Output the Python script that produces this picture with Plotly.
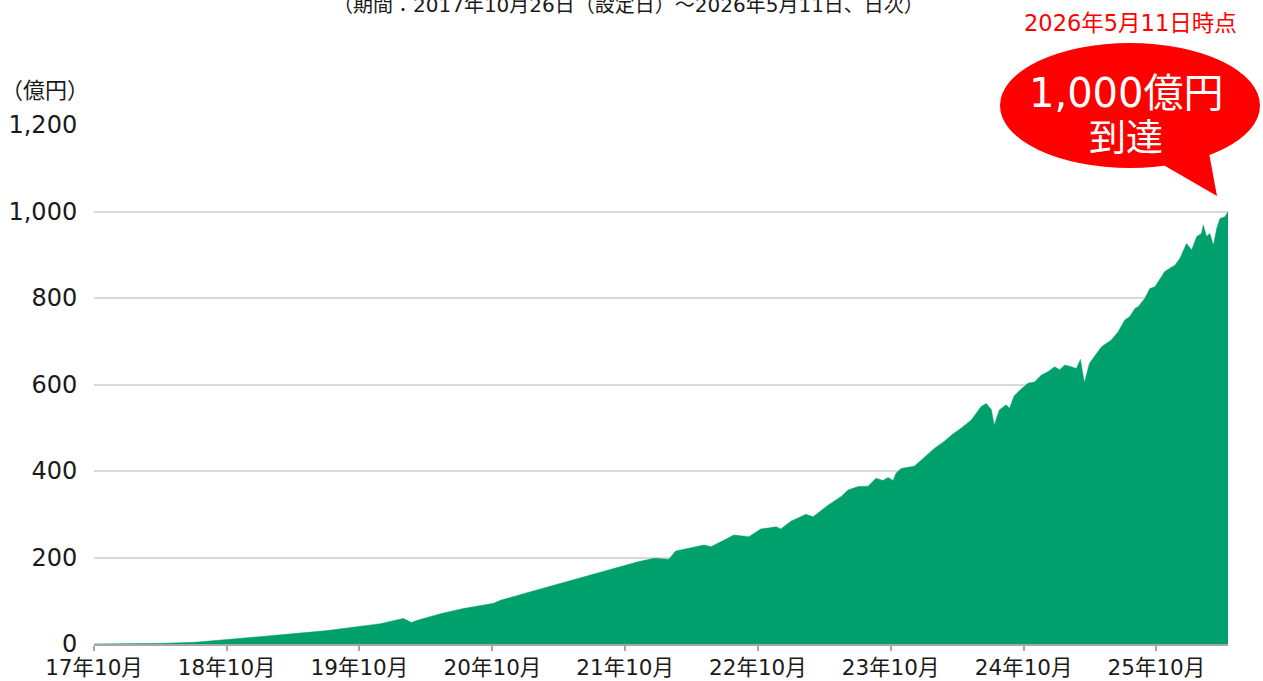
import plotly.graph_objects as go

# 純資産総額（億円）: dates and values
dates = [
    "2017-10-26", "2018-02-02", "2018-05-07", "2018-07-31", "2018-10-25",
    "2019-01-26", "2019-04-30", "2019-07-30", "2019-10-26", "2019-12-23",
    "2020-02-02", "2020-02-24", "2020-03-17", "2020-04-03", "2020-06-05",
    "2020-08-07", "2020-10-29", "2020-11-17", "2021-02-08", "2021-04-12",
    "2021-06-06", "2021-09-08", "2021-11-30", "2022-01-13", "2022-02-23",
    "2022-03-14", "2022-05-31", "2022-06-19", "2022-08-21", "2022-10-01",
    "2022-11-03", "2022-11-23", "2022-12-15", "2022-12-28", "2023-01-25",
    "2023-03-07", "2023-03-27", "2023-05-07", "2023-06-12", "2023-07-01",
    "2023-07-29", "2023-08-25", "2023-09-16", "2023-10-05", "2023-10-19",
    "2023-11-02", "2023-11-10", "2023-11-24", "2023-12-30", "2024-01-18",
    "2024-02-23", "2024-03-21", "2024-04-15", "2024-05-07", "2024-06-04",
    "2024-07-01", "2024-07-15", "2024-07-29", "2024-08-06", "2024-08-20",
    "2024-09-08", "2024-09-17", "2024-09-30", "2024-10-20", "2024-11-07",
    "2024-11-25", "2024-12-14", "2025-01-02", "2025-01-19", "2025-02-02",
    "2025-02-16", "2025-03-06", "2025-03-20", "2025-03-31", "2025-04-07",
    "2025-04-11", "2025-04-25", "2025-05-14", "2025-05-28", "2025-06-24",
    "2025-07-13", "2025-07-31", "2025-08-14", "2025-08-28", "2025-09-06",
    "2025-09-24", "2025-10-08", "2025-10-22", "2025-11-09", "2025-11-18",
    "2025-12-02", "2025-12-16", "2025-12-30", "2026-01-17", "2026-01-31",
    "2026-02-14", "2026-02-27", "2026-03-04", "2026-03-13", "2026-03-22",
    "2026-04-01", "2026-04-10", "2026-04-19", "2026-05-03", "2026-05-11",
]
values = [
    0.2, 0.5, 1.5, 4, 10,
    16, 24, 31, 40, 47,
    55, 59, 50, 55, 70,
    82, 94, 101, 121, 136,
    149, 171, 190, 198, 196,
    215, 229, 225, 252, 248,
    266, 268, 271, 266, 284,
    300, 294, 321, 341, 356,
    364, 365, 383, 378, 385,
    378, 395, 406, 411, 425,
    452, 468, 486, 499, 518,
    549, 556, 542, 506, 541,
    553, 545, 574, 590, 603,
    606, 622, 630, 641, 634,
    645, 641, 637, 658, 626,
    604, 649, 672, 687, 703,
    722, 749, 757, 776, 780,
    799, 822, 826, 849, 861,
    869, 876, 892, 926, 911,
    942, 949, 969, 942, 949,
    922, 961, 984, 988, 1000,
]

tick_dates = ["2017-10-26", "2018-10-26", "2019-10-26", "2020-10-26", "2021-10-26",
              "2022-10-26", "2023-10-26", "2024-10-26", "2025-10-26"]
tick_labels = ["17年10月", "18年10月", "19年10月", "20年10月", "21年10月",
               "22年10月", "23年10月", "24年10月", "25年10月"]
y_ticks = [0, 200, 400, 600, 800, 1000, 1200]
y_tick_labels = ["0", "200", "400", "600", "800", "1,000", "1,200"]

title_text = "（期間：2017年10月26日（設定日）～2026年5月11日、日次）"
asof_text = "2026年5月11日時点"
bubble_line1 = "1,000億円"
bubble_line2 = "到達"
unit_text = "（億円）"

FONT = "DejaVu Sans, Noto Sans CJK JP, sans-serif"
GREEN = "#00A06C"
RED = "#FF0000"
TEXT = "#1A1A1A"

fig = go.Figure()
fig.add_trace(go.Scatter(
    x=dates, y=values, mode="lines", fill="tozeroy",
    line=dict(color=GREEN, width=0.5), fillcolor=GREEN,
    hoverinfo="x+y", showlegend=False,
))

# plot area in page pixels: x 94..1228, y 125..644
W, H = 1263, 681
L, R, T, B = 94, 1228, 125, 644
def px(x):
    return (x - L) / (R - L)
def py(y):
    return (B - y) / (B - T)

shapes = [
    dict(type="circle", xref="paper", yref="paper",
         x0=px(1000), x1=px(1260), y0=py(168), y1=py(43),
         fillcolor=RED, line=dict(width=0), layer="above"),
    dict(type="path", xref="paper", yref="paper",
         path=f"M {px(1160)} {py(163)} L {px(1209)} {py(153)} L {px(1217)} {py(196)} Z",
         fillcolor=RED, line=dict(width=0), layer="above"),
]

annotations = [
    dict(text=title_text, xref="paper", yref="paper", x=px(628), y=py(5),
         showarrow=False, font=dict(family=FONT, size=20, color=TEXT),
         xanchor="center", yanchor="middle"),
    dict(text=asof_text, xref="paper", yref="paper", x=px(1130), y=py(23),
         showarrow=False, font=dict(family=FONT, size=22.5, color=RED),
         xanchor="center", yanchor="middle"),
    dict(text=bubble_line1, xref="paper", yref="paper", x=px(1126), y=py(93),
         showarrow=False, font=dict(family=FONT, size=40, color="white"),
         xanchor="center", yanchor="middle"),
    dict(text=bubble_line2, xref="paper", yref="paper", x=px(1126), y=py(138),
         showarrow=False, font=dict(family=FONT, size=37, color="white"),
         xanchor="center", yanchor="middle"),
    dict(text=unit_text, xref="paper", yref="paper", x=px(45), y=py(90),
         showarrow=False, font=dict(family=FONT, size=22, color=TEXT),
         xanchor="center", yanchor="middle"),
]

fig.update_layout(
    width=W, height=H,
    margin=dict(l=L, r=W - R, t=T, b=H - B, pad=0, autoexpand=False),
    paper_bgcolor="white", plot_bgcolor="white",
    font=dict(family=FONT, size=22, color=TEXT),
    shapes=shapes, annotations=annotations,
    xaxis=dict(
        type="date", range=["2017-10-26", "2026-05-11"],
        tickvals=tick_dates, ticktext=tick_labels,
        showgrid=False, showline=True, linecolor="#A6A6A6", linewidth=2,
        ticks="outside", ticklen=5, tickwidth=2, tickcolor="#A6A6A6",
        ticklabelstandoff=-2, automargin=False,
        tickfont=dict(family=FONT, size=21.5, color=TEXT),
        zeroline=False,
    ),
    yaxis=dict(
        range=[0, 1200], tickvals=y_ticks, ticktext=y_tick_labels,
        showgrid=True, gridcolor="#D9D9D9", gridwidth=2,
        showline=False, zeroline=False, automargin=False,
        ticks="outside", ticklen=11, tickcolor="rgba(0,0,0,0)",
        tickfont=dict(family=FONT, size=24, color=TEXT),
    ),
)

fig.write_html("out.html", config={"displayModeBar": False},
               post_script="document.body.style.margin='0px';")
